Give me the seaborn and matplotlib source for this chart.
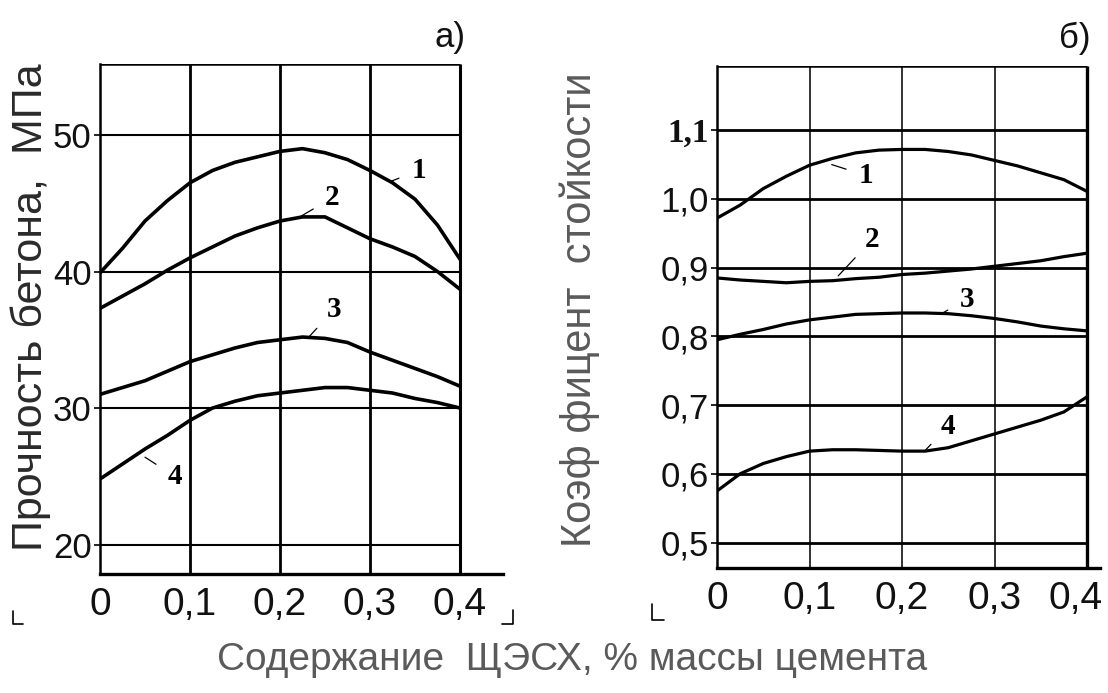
import matplotlib
matplotlib.use("Agg")
import matplotlib.pyplot as plt
import matplotlib.transforms as mtransforms
import seaborn as sns
import pandas as pd
from matplotlib.lines import Line2D

# ---------------- data ----------------
x_content = [0.0, 0.025, 0.05, 0.075, 0.1, 0.125, 0.15, 0.175, 0.2,
             0.225, 0.25, 0.275, 0.3, 0.325, 0.35, 0.375, 0.4]

# panel a) concrete strength, MPa
strength_1 = [39.9, 41.7, 43.7, 45.2, 46.5, 47.4, 48.0, 48.4, 48.8,
              49.0, 48.7, 48.2, 47.4, 46.5, 45.3, 43.4, 40.9]
strength_2 = [37.3, 38.2, 39.1, 40.1, 41.0, 41.8, 42.6, 43.2, 43.7,
              44.0, 44.0, 43.2, 42.4, 41.8, 41.1, 40.0, 38.7]
strength_3 = [31.0, 31.5, 32.0, 32.7, 33.4, 33.9, 34.4, 34.8, 35.0,
              35.2, 35.1, 34.8, 34.1, 33.5, 32.9, 32.3, 31.6]
strength_4 = [24.8, 25.9, 27.0, 28.0, 29.1, 30.0, 30.5, 30.9, 31.1,
              31.3, 31.5, 31.5, 31.3, 31.1, 30.7, 30.4, 30.0]

# panel б) durability coefficient
coef_1 = [0.972, 0.991, 1.015, 1.033, 1.049, 1.059, 1.067, 1.071, 1.072,
          1.072, 1.069, 1.064, 1.056, 1.048, 1.038, 1.028, 1.011]
coef_2 = [0.885, 0.882, 0.880, 0.878, 0.880, 0.881, 0.884, 0.886, 0.890,
          0.892, 0.895, 0.898, 0.902, 0.906, 0.910, 0.916, 0.921]
coef_3 = [0.795, 0.803, 0.810, 0.818, 0.824, 0.828, 0.832, 0.833, 0.834,
          0.834, 0.833, 0.830, 0.826, 0.821, 0.815, 0.811, 0.808]
coef_4 = [0.575, 0.600, 0.615, 0.625, 0.633, 0.635, 0.635, 0.634, 0.633,
          0.633, 0.638, 0.648, 0.658, 0.668, 0.678, 0.690, 0.712]

curve_names = ["1", "2", "3", "4"]

x_ticks = [0.0, 0.1, 0.2, 0.3, 0.4]
x_tick_labels = ["0", "0,1", "0,2", "0,3", "0,4"]
left_y_ticks = [20, 30, 40, 50]
left_y_tick_labels = ["20", "30", "40", "50"]
right_y_ticks = [0.5, 0.6, 0.7, 0.8, 0.9, 1.0, 1.1]
right_y_tick_labels = ["0,5", "0,6", "0,7", "0,8", "0,9", "1,0", "1,1"]

# curve-number labels: (text position), (point on curve)
left_label_text = [(0.354, 47.4), (0.258, 45.4), (0.260, 37.2), (0.083, 25.0)]
left_label_anchor = [(0.323, 46.6), (0.222, 44.0), (0.232, 35.2), (0.05, 26.4)]
right_label_text = [(0.161, 1.034), (0.168, 0.941), (0.270, 0.854), (0.250, 0.669)]
right_label_anchor = [(0.124, 1.050), (0.131, 0.888), (0.244, 0.834), (0.225, 0.634)]

ylabel_left = "Прочность бетона,  МПа"
ylabel_right = "Коэф фицент  стойкости"
xlabel_text = "Содержание  ЩЭСХ, % массы цемента"

# ---------------- style ----------------
sns.set_theme(style="white")
plt.rcParams["font.family"] = ["Liberation Sans", "DejaVu Sans"]

W, H = 1108, 693
fig = plt.figure(figsize=(W / 100, H / 100), dpi=100)
fig.patch.set_facecolor("white")


def fx(px):
    return px / W


def fy(py):
    return 1 - py / H


def make_long(xs, series):
    rows = []
    for name, ys in zip(curve_names, series):
        for xv, yv in zip(xs, ys):
            rows.append({"x": xv, "y": yv, "curve": name})
    return pd.DataFrame(rows)


def setup_axes(ax, ylim, yticks, ylabels, xmax_axis, vgrid_lw, vgrid_color, hgrid_lw, right_lw):
    ax.set_xlim(0, xmax_axis)
    ax.set_ylim(*ylim)
    ax.set_facecolor("white")
    for s in ["top", "right"]:
        ax.spines[s].set_visible(False)
    ax.spines["left"].set_linewidth(1.8)
    ax.spines["left"].set_color("black")
    ax.spines["bottom"].set_linewidth(2.4)
    ax.spines["bottom"].set_color("black")
    # grid lines (drawn from tick arrays)
    ax.vlines(x_ticks[1:-1], ylim[0], ylim[1], colors=vgrid_color, lw=vgrid_lw, zorder=1)
    ax.vlines([x_ticks[-1]], ylim[0], ylim[1], colors="black", lw=right_lw, zorder=1)
    ax.hlines(yticks, x_ticks[0], x_ticks[-1], colors="black", lw=hgrid_lw, zorder=1)
    ax.hlines([ylim[1]], x_ticks[0], x_ticks[-1], colors="black", lw=1.8, zorder=1)
    ax.set_xticks(x_ticks)
    ax.set_xticklabels(x_tick_labels, fontsize=28, color="#111111")
    ax.set_yticks(yticks)
    ax.set_yticklabels(ylabels, fontsize=25, color="#111111")
    ax.tick_params(axis="x", length=0, pad=10)
    ax.tick_params(axis="y", length=4, width=1.2, color="black", pad=2, direction="out", left=True)
    ax.set_xlabel("")
    ax.set_ylabel("")
    ax.grid(False)


# ---------------- panel a) ----------------
axL = fig.add_axes([fx(100), fy(573.5), fx(503) - fx(100), fy(63.6) - fy(573.5)])
dfL = make_long(x_content, [strength_1, strength_2, strength_3, strength_4])
sns.lineplot(data=dfL, x="x", y="y", hue="curve", palette=["black"] * 4,
             lw=2.6, legend=False, ax=axL, zorder=3)
setup_axes(axL, (17.88, 55.23), left_y_ticks, left_y_tick_labels,
           0.4 * (503 - 100) / 360, 2.0, "black", 1.5, 2.2)

for name, (tx, ty), (ax_, ay_) in zip(curve_names, left_label_text, left_label_anchor):
    axL.annotate(name, xy=(ax_, ay_), xytext=(tx, ty), fontsize=21, fontweight="bold",
                 family="Liberation Serif", ha="center", va="center", color="black",
                 arrowprops=dict(arrowstyle="-", lw=0.9, color="black", shrinkA=7, shrinkB=0))

# ---------------- panel б) ----------------
axR = fig.add_axes([fx(717), fy(567.6), fx(1100) - fx(717), fy(65.6) - fy(567.6)])
dfR = make_long(x_content, [coef_1, coef_2, coef_3, coef_4])
sns.lineplot(data=dfR, x="x", y="y", hue="curve", palette=["black"] * 4,
             lw=2.3, legend=False, ax=axR, zorder=3)
setup_axes(axR, (0.4635, 1.194), right_y_ticks, right_y_tick_labels,
           0.4 * (1100 - 717) / 370, 1.4, "#333333", 2.0, 2.4)
# the "1,1" label is set in a serif face in the original
for lab in axR.get_yticklabels():
    if lab.get_text() == "1,1":
        lab.set_family("Liberation Serif")
        lab.set_fontweight("bold")
        lab.set_fontsize(24)
# keep the last x label inside the figure (slightly left of its line, as in the original)
shift = mtransforms.ScaledTranslation(-0.11, 0, fig.dpi_scale_trans)
lab_last = axR.get_xticklabels()[-1]
lab_last.set_transform(lab_last.get_transform() + shift)

for name, (tx, ty), (ax_, ay_) in zip(curve_names, right_label_text, right_label_anchor):
    axR.annotate(name, xy=(ax_, ay_), xytext=(tx, ty), fontsize=21, fontweight="bold",
                 family="Liberation Serif", ha="center", va="center", color="black",
                 arrowprops=dict(arrowstyle="-", lw=0.9, color="black", shrinkA=7, shrinkB=0))

# ---------------- texts ----------------
fig.text(fx(31), fy(307), ylabel_left, rotation=90, ha="center", va="center",
         fontsize=31, color="#2a2a2a")
fig.text(fx(580), fy(310), ylabel_right, rotation=90, ha="center", va="center",
         fontsize=30, color="#5a5a5a")
fig.text(fx(572), fy(660), xlabel_text, ha="center", va="center",
         fontsize=28, color="#5a5a5a")
fig.text(fx(450), fy(38), "а)", ha="center", va="center", fontsize=25, color="#111111")
fig.text(fx(1075), fy(38), "б)", ha="center", va="center", fontsize=25, color="#111111")

# small corner marks of the scanned figure
corner_marks = [
    [(13, 611), (13, 624), (23, 624)],
    [(513, 610), (513, 624), (502, 624)],
    [(652, 604), (652, 620), (664, 620)],
]
for pts in corner_marks:
    fig.add_artist(Line2D([fx(p[0]) for p in pts], [fy(p[1]) for p in pts],
                          transform=fig.transFigure, color="black", lw=1.2))

fig.savefig("out.png", dpi=100, facecolor="white")
